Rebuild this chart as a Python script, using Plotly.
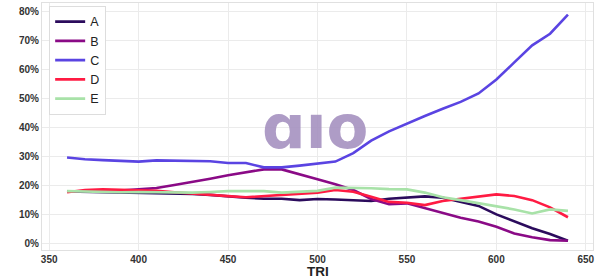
import plotly.graph_objects as go

tri = list(range(360, 641, 10))
A = [17.8, 17.7, 17.6, 17.5, 17.4, 17.3, 17.2, 16.9, 16.6, 16.0, 15.6, 15.3, 15.3, 14.8, 15.2, 15.0, 14.8, 14.5, 15.3,
     15.6, 16.1, 15.6, 14.3, 12.8, 9.9, 7.4, 5.1, 3.1, 0.8]
B = [17.8, 17.9, 18.0, 18.1, 18.5, 19.0, 20.0, 21.0, 22.2, 23.4, 24.4, 25.4, 25.4, 23.8, 22.0, 20.3, 18.3, 15.2, 13.4,
     13.7, 12.0, 10.2, 8.7, 7.4, 5.6, 3.3, 2.0, 1.0, 0.8]
C = [29.5, 28.9, 28.6, 28.3, 28.1, 28.5, 28.4, 28.4, 28.2, 27.6, 27.6, 26.1, 26.1, 26.7, 27.4, 28.1, 31.0, 35.3, 38.5,
     41.2, 43.8, 46.3, 48.7, 51.6, 56.4, 62.3, 68.2, 72.2, 78.8]
D = [17.5, 18.3, 18.5, 18.4, 18.3, 18.0, 17.5, 17.0, 16.6, 16.2, 15.8, 16.2, 16.6, 17.1, 17.4, 18.3, 17.7, 16.0, 14.2,
     13.9, 13.1, 14.5, 15.2, 16.0, 16.8, 16.2, 14.8, 12.3, 8.9]
E = [17.9, 17.7, 17.6, 17.5, 17.6, 17.5, 17.4, 17.4, 17.6, 17.9, 17.9, 17.9, 17.4, 17.7, 18.0, 19.1, 19.1, 18.9, 18.6,
     18.5, 17.4, 15.8, 14.8, 13.7, 12.5, 11.6, 10.2, 11.6, 11.1]

series = [("A", A, "#2b0b5c"), ("B", B, "#8a0a86"), ("C", C, "#5a44e2"),
          ("D", D, "#ff1b43"), ("E", E, "#a8e2a8")]

fig = go.Figure()
for name, vals, col in series:
    fig.add_trace(go.Scatter(x=tri, y=[v / 100 for v in vals], mode="lines", name=name,
                             line=dict(color=col, width=2.6)))

fig.add_annotation(x=0.495, y=0.502, xref="paper", yref="paper", text="<b>ɑıo</b>", showarrow=False,
                   xanchor="center", yanchor="middle",
                   font=dict(size=61, color="rgba(165,145,192,0.9)", family="DejaVu Sans"))

fig.add_annotation(x=0.5, y=-0.1215, xref="paper", yref="paper", text="<b>TRI</b>", showarrow=False,
                   xanchor="center", yanchor="bottom", borderpad=0,
                   font=dict(family="Liberation Sans", size=13.5, color="#222222"))

tickfont = dict(family="Liberation Sans", size=10, color="#333333", weight="bold")
axis_common = dict(showgrid=True, gridcolor="#ebebeb", gridwidth=1, zeroline=False,
                   showline=True, linecolor="#e0e0e0", mirror=True, ticks="",
                   tickfont=tickfont, automargin=False)

fig.update_layout(
    width=600, height=280,
    margin=dict(l=42, r=7, t=3, b=30),
    paper_bgcolor="white", plot_bgcolor="white",
    showlegend=True,
    legend=dict(x=0.013, y=0.988, xanchor="left", yanchor="top", bgcolor="white",
                bordercolor="#dddddd", borderwidth=1,
                font=dict(family="Liberation Sans", size=12.5, color="#222222"),
                itemwidth=30, tracegroupgap=0),
    xaxis=dict(range=[346, 654], tickvals=[350, 400, 450, 500, 550, 600, 650],
               ticklabelstandoff=0, **axis_common),
    yaxis=dict(range=[-0.024, 0.828], tickvals=[0, 0.1, 0.2, 0.3, 0.4, 0.5, 0.6, 0.7, 0.8],
               tickformat=".0%", **axis_common),
)

fig.write_html("out.html")
